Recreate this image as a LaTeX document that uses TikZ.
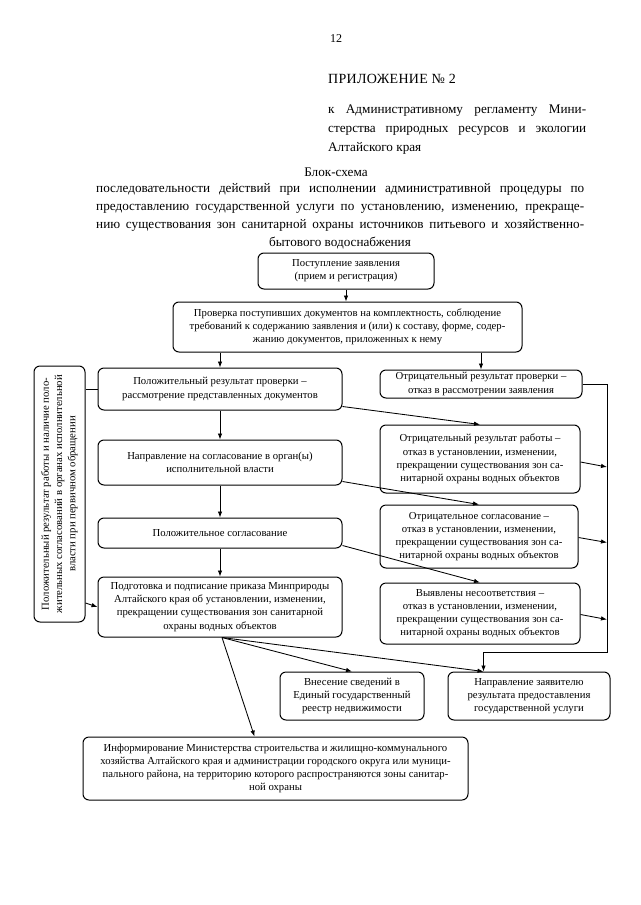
\documentclass[tikz,border=0pt]{standalone}
\usepackage{fontspec}
\setmainfont{Liberation Serif}
\usetikzlibrary{arrows.meta,calc}
\begin{document}
\begin{tikzpicture}[x=1pt,y=-1pt,
  box/.style={draw, rounded corners=6pt, line width=1pt, align=center, inner sep=0pt, font={\fontsize{10.7}{13.2}\selectfont}},
  arr/.style={line width=0.85pt, -{Latex[length=6pt,width=4.5pt]}},
  ln/.style={line width=0.85pt},
  hdr/.style={inner sep=0pt, font={\fontsize{13.2}{18}\selectfont}}]
\fill[white] (0,0) rectangle (640,905);
\useasboundingbox (0,0) rectangle (640,905);

% header
\node[anchor=base, inner sep=0pt, font={\fontsize{12}{14}\selectfont}] (pg) at (336,42) {12};
\node[anchor=base west, inner sep=0pt, font={\fontsize{14}{18}\selectfont\addfontfeature{LetterSpace=2}}] (app) at (328,83) {ПРИЛОЖЕНИЕ № 2};
\node[anchor=base west, hdr] (ap1) at (328,113) {\makebox[258pt][s]{к Административному регламенту Мини-}};
\node[anchor=base west, hdr] (ap2) at (328,132) {\makebox[258pt][s]{стерства природных ресурсов и экологии}};
\node[anchor=base west, hdr] (ap3) at (328,151) {Алтайского края};
\node[anchor=base, hdr] (bs) at (336,176) {Блок-схема};
\node[anchor=base west, hdr] (t1) at (96,192) {\makebox[488pt][s]{последовательности действий при исполнении административной процедуры по}};
\node[anchor=base west, hdr] (t2) at (96,210) {\makebox[488pt][s]{предоставлению государственной услуги по установлению, изменению, прекраще-}};
\node[anchor=base west, hdr] (t3) at (96,228) {\makebox[488pt][s]{нию существования зон санитарной охраны источников питьевого и хозяйственно-}};
\node[anchor=base, hdr] (t4) at (340,246) {бытового водоснабжения};

% boxes
\node[box, minimum width=176pt, minimum height=36pt] (b1) at (346,271) {Поступление заявления\\(прием и регистрация)};
\node[box, minimum width=349pt, minimum height=50pt] (b2) at (347.5,327) {Проверка поступивших документов на комплектность, соблюдение\\требований к содержанию заявления и (или) к составу, форме, содер-\\жанию документов, приложенных к нему};
\node[box, minimum width=244pt, minimum height=42pt] (b3) at (220,389) {Положительный результат проверки –\\рассмотрение представленных документов};
\node[box, minimum width=202pt, minimum height=28pt] (b4) at (481,384) {Отрицательный результат проверки –\\отказ в рассмотрении заявления};
\node[box, rotate=90, minimum width=256pt, minimum height=51pt] (b5) at (59.5,494) {Положительный результат работы и наличие поло-\\жительных согласований в органах исполнительной\\власти при первичном обращении};
\node[box, minimum width=244pt, minimum height=45pt] (b6) at (220,462.5) {Направление на согласование в орган(ы)\\исполнительной власти};
\node[box, minimum width=200pt, minimum height=68pt] (b7) at (480,459) {Отрицательный результат работы –\\отказ в установлении, изменении,\\прекращении существования зон са-\\нитарной охраны водных объектов};
\node[box, minimum width=244pt, minimum height=30pt] (b8) at (220,533) {Положительное согласование};
\node[box, minimum width=198pt, minimum height=63pt] (b9) at (479,536.5) {Отрицательное согласование –\\отказ в установлении, изменении,\\прекращении существования зон са-\\нитарной охраны водных объектов};
\node[box, minimum width=244pt, minimum height=60pt] (b10) at (220,607) {Подготовка и подписание приказа Минприроды\\Алтайского края об установлении, изменении,\\прекращении существования зон санитарной\\охраны водных объектов};
\node[box, minimum width=200pt, minimum height=61pt] (b11) at (480,613.5) {Выявлены несоответствия –\\отказ в установлении, изменении,\\прекращении существования зон са-\\нитарной охраны водных объектов};
\node[box, minimum width=144pt, minimum height=48pt] (b12) at (352,696) {Внесение сведений в\\Единый государственный\\реестр недвижимости};
\node[box, minimum width=162pt, minimum height=48pt] (b13) at (529,696) {Направление заявителю\\результата предоставления\\государственной услуги};
\node[box, minimum width=385pt, minimum height=63pt] (b14) at (275.5,768.5) {Информирование Министерства строительства и жилищно-коммунального\\хозяйства Алтайского края и администрации городского округа или муници-\\пального района, на территорию которого распространяются зоны санитар-\\ной охраны};

% coordinates
\coordinate (rb) at (607,652);
\coordinate (t13) at ($(b13.north west)+(36,0)$);
\coordinate (o) at ($(b10.south)+(2,0)$);
\coordinate (t14) at ($(b14.north west)+(172,0)$);

% connectors
\draw[arr] (b1.south) -- (b1.south |- b2.north);
\draw[arr] (b3.north |- b2.south) -- (b3.north);
\draw[arr] (b4.north |- b2.south) -- (b4.north);
\draw[ln] (b3.west) -- (b3.west -| b5.south);
\draw[arr] ($(b5.south)+(0,109)$) -- (b10.west);
\draw[arr] (b3.south) -- (b6.north);
\draw[arr] (b6.south) -- (b8.north);
\draw[arr] (b8.south) -- (b10.north);
\draw[arr] ($(b3.south east)+(0,-4)$) -- (b7.north);
\draw[arr] ($(b6.south east)+(0,-4)$) -- (b9.north);
\draw[arr] ($(b8.south east)+(0,-3)$) -- (b11.north);
\draw[arr] (b4.east) -- (b4.east -| rb) -- (rb) -- (rb -| t13) -- (t13);
\draw[arr] ($(b7.east)+(0,3)$) -- ($(b7.east -| rb)+(0,8)$);
\draw[arr] ($(b9.east)+(0,1)$) -- ($(b9.east -| rb)+(0,6)$);
\draw[arr] ($(b11.east)+(0,1)$) -- ($(b11.east -| rb)+(0,6)$);
\draw[arr] (o) -- (b12.north);
\draw[arr] (o) -- (t13);
\draw[arr] (o) -- (t14);
\end{tikzpicture}
\end{document}
